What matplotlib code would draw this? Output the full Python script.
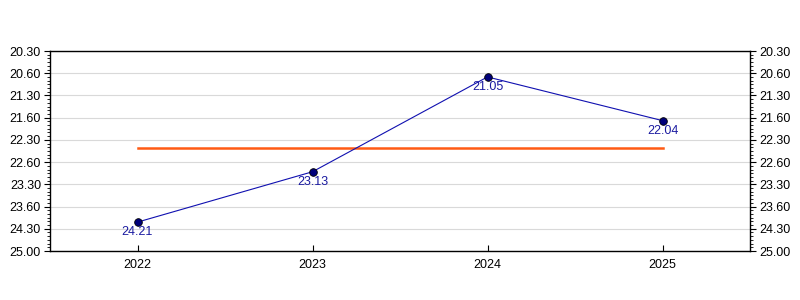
import matplotlib
matplotlib.use("Agg")
import matplotlib.pyplot as plt
from matplotlib.ticker import FixedLocator, MultipleLocator

plt.rcParams['font.family'] = ['Liberation Sans', 'DejaVu Sans']

years = ["2022", "2023", "2024", "2025"]
times = [24.21, 23.13, 21.05, 22.04]          # minutes.seconds
average = 22.4075                             # minutes.seconds (22:40.75)
ytick_labels = ["20.30", "20.60", "21.30", "21.60", "22.30",
                "22.60", "23.30", "23.60", "24.30", "25.00"]


def to_sec(v):
    m = int(v)
    s = round((v - m) * 100, 4)
    return m * 60 + s


ticks = [to_sec(float(t)) for t in ytick_labels]
secs = [to_sec(v) for v in times]
x = list(range(len(years)))

fig = plt.figure(figsize=(8, 3), dpi=100)
ax = fig.add_axes([0.0625, 0.1633, 0.875, 0.6667])

ax.set_ylim(ticks[-1], ticks[0])
ax.set_xlim(-0.5, len(years) - 0.5)

ax.yaxis.set_major_locator(FixedLocator(ticks))
ax.set_yticklabels(ytick_labels)
ax.yaxis.set_minor_locator(MultipleLocator(5))
ax.tick_params(axis='y', which='both', left=True, right=True,
               labelleft=True, labelright=True, direction='out',
               labelsize=9, colors='black')
ax.tick_params(axis='y', which='major', length=4, pad=2.5)
ax.tick_params(axis='y', which='minor', length=2.5)
ax.set_xticks(x)
ax.set_xticklabels(years)
ax.tick_params(axis='x', direction='in', length=4, labelsize=9, pad=6)

ax.grid(axis='y', which='major', color='#d9d9d9', linewidth=0.8)
ax.set_axisbelow(True)
for sp in ax.spines.values():
    sp.set_linewidth(1.0)
    sp.set_color('black')

ax.plot([x[0], x[-1]], [to_sec(average)] * 2, color='#ff5a14', linewidth=1.8,
        zorder=2)
ax.plot(x, secs, color='#1010b0', linewidth=0.8, marker='o', markersize=5.5,
        markerfacecolor='#00007a', markeredgecolor='black',
        markeredgewidth=0.6, zorder=3)

for xi, s, v in zip(x, secs, times):
    ax.annotate(f"{v:.2f}", (xi, s), xytext=(0, -3), textcoords='offset points',
                ha='center', va='top', fontsize=9, color='#1a1aa0')

fig.savefig("out.png", dpi=100)
